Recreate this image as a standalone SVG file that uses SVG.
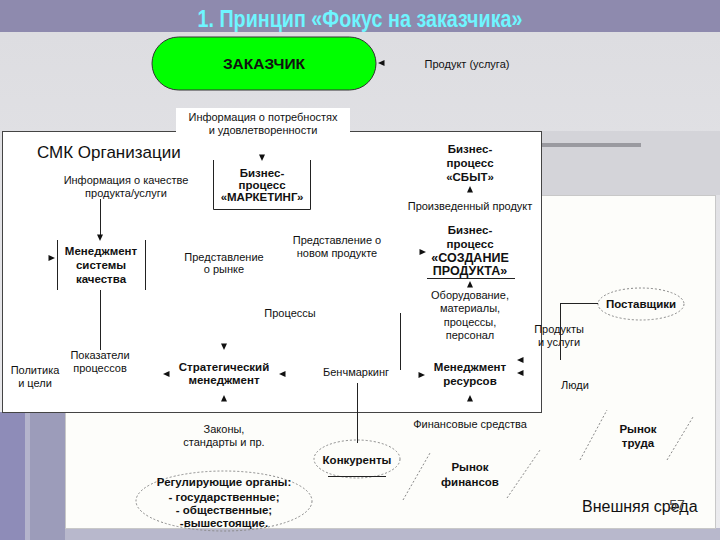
<svg xmlns="http://www.w3.org/2000/svg" width="720" height="540" viewBox="0 0 720 540">
<defs>
<path id="ar" d="M-3.5,-3 L3,0 L-3.5,3 Z" fill="#111"/>
<linearGradient id="bg" x1="0" y1="0" x2="0" y2="1">
<stop offset="0" stop-color="#dcdce0"/><stop offset="1" stop-color="#ececef"/>
</linearGradient>
</defs>
<style>
.t{font-family:"Liberation Sans",Arial,sans-serif;font-size:11px;fill:#111;text-anchor:middle}
.b{font-family:"Liberation Sans",Arial,sans-serif;font-size:11.5px;font-weight:bold;fill:#111;text-anchor:middle}
.ln{stroke:#222;stroke-width:1;fill:none}
.dash{stroke:#888;stroke-width:1;fill:none;stroke-dasharray:2 2}
</style>
<rect x="0" y="0" width="720" height="540" fill="url(#bg)"/>
<rect x="0" y="0" width="720" height="32" fill="#8e8aae"/>
<text x="360" y="27" font-family="Liberation Sans,Arial,sans-serif" font-size="23" font-weight="bold" fill="#6ff5ff" text-anchor="middle" textLength="325" lengthAdjust="spacingAndGlyphs">1.  Принцип «Фокус на заказчика»</text>
<!-- slide decorations -->
<rect x="541" y="131" width="179" height="64" fill="#d4d4d9"/>
<rect x="541" y="143" width="100" height="4" fill="#9a9aa0"/>
<rect x="0" y="412" width="25" height="128" fill="#8e8cb8"/>
<rect x="25" y="412" width="5" height="128" fill="#b4b4cc"/>
<rect x="30" y="412" width="35" height="128" fill="#9c9cba"/>
<rect x="65" y="528" width="655" height="12" fill="#b8b8cc"/>
<!-- outer environment area -->
<rect x="65.5" y="195.5" width="650" height="333" fill="#fdfdfa" stroke="#c8c8c8"/>
<!-- SMK organisation area -->
<rect x="2.5" y="131.5" width="539" height="281" fill="#ffffff" stroke="#444"/>
<g id="customer">
<rect x="152" y="37" width="224" height="53" rx="26.5" fill="#00ff00" stroke="#333"/>
<text class="b" x="264" y="69" style="font-size:15.5px">ЗАКАЗЧИК</text>
</g>
<g id="product-label"><text class="t" x="467" y="68">Продукт (услуга)</text></g>
<g id="info-needs">
<rect x="176" y="108" width="174" height="29" fill="#ffffff"/>
<text class="t" x="263" y="121">Информация о потребностях</text>
<text class="t" x="263" y="134">и удовлетворенности</text>
</g>
<g id="smk-title"><text x="37" y="158" font-family="Liberation Sans,Arial,sans-serif" font-size="17" fill="#111">СМК Организации</text></g>
<g id="info-quality">
<text class="t" x="126" y="184">Информация о качестве</text>
<text class="t" x="126" y="197">продукта/услуги</text>
</g>
<g id="marketing">
<path class="ln" d="M213.5,160 V209.5 H310.5 V160"/>
<text class="b" x="262" y="177">Бизнес-</text>
<text class="b" x="262" y="189">процесс</text>
<text class="b" x="262" y="201">«МАРКЕТИНГ»</text>
</g>
<g id="qms">
<path class="ln" d="M57.5,240 V290 M145.5,240 V290"/>
<text class="b" x="101" y="255">Менеджмент</text>
<text class="b" x="101" y="269">системы</text>
<text class="b" x="101" y="283">качества</text>
</g>
<g id="market-view">
<text class="t" x="224" y="261">Представление</text>
<text class="t" x="224" y="273">о рынке</text>
</g>
<g id="newproduct-view">
<text class="t" x="337" y="244">Представление о</text>
<text class="t" x="337" y="257">новом продукте</text>
</g>
<g id="sales">
<text class="b" x="470" y="153">Бизнес-</text>
<text class="b" x="470" y="167">процесс</text>
<text class="b" x="470" y="181">«СБЫТ»</text>
</g>
<g id="produced"><text class="t" x="470" y="210">Произведенный продукт</text></g>
<g id="creation">
<text class="b" x="470" y="234">Бизнес-</text>
<text class="b" x="470" y="248">процесс</text>
<text class="b" x="470" y="262" style="font-size:12.5px">«СОЗДАНИЕ</text>
<text class="b" x="470" y="275" style="font-size:12.5px">ПРОДУКТА»</text>
<path class="ln" d="M427,278.5 H515"/>
</g>
<g id="equipment">
<text class="t" x="470" y="299">Оборудование,</text>
<text class="t" x="470" y="312">материалы,</text>
<text class="t" x="470" y="326">процессы,</text>
<text class="t" x="470" y="339">персонал</text>
</g>
<g id="processes"><text class="t" x="290" y="317">Процессы</text></g>
<g id="indicators">
<text class="t" x="100" y="359">Показатели</text>
<text class="t" x="100" y="372">процессов</text>
</g>
<g id="policy">
<text class="t" x="35" y="374">Политика</text>
<text class="t" x="35" y="387">и цели</text>
</g>
<g id="strategic">
<text class="b" x="224" y="371">Стратегический</text>
<text class="b" x="224" y="384">менеджмент</text>
</g>
<g id="benchmarking"><text class="t" x="356" y="376">Бенчмаркинг</text></g>
<g id="resources">
<text class="b" x="470" y="371">Менеджмент</text>
<text class="b" x="470" y="385">ресурсов</text>
</g>
<g id="suppliers">
<ellipse class="dash" cx="641" cy="304" rx="43" ry="16"/>
<text class="b" x="641" y="308">Поставщики</text>
</g>
<g id="products-services">
<text class="t" x="559" y="333">Продукты</text>
<text class="t" x="559" y="346">и услуги</text>
</g>
<g id="people"><text class="t" x="575" y="389">Люди</text></g>
<g id="laws">
<text class="t" x="224" y="433">Законы,</text>
<text class="t" x="224" y="446">стандарты и пр.</text>
</g>
<g id="finance-means"><text class="t" x="470" y="428">Финансовые средства</text></g>
<g id="regulators">
<ellipse class="dash" cx="224" cy="501" rx="88" ry="30"/>
<text class="b" x="224" y="486">Регулирующие органы:</text>
<text class="b" x="224" y="501">- государственные;</text>
<text class="b" x="224" y="514">- общественные;</text>
<text class="b" x="224" y="527">-вышестоящие.</text>
</g>
<g id="competitors">
<ellipse class="dash" cx="357" cy="459" rx="43" ry="19"/>
<text class="b" x="357" y="464">Конкуренты</text>
</g>
<g id="finance-market">
<path class="dash" d="M403,500 L430,453 M507,498 L540,450"/>
<text class="b" x="470" y="471">Рынок</text>
<text class="b" x="470" y="486">финансов</text>
</g>
<g id="labour-market">
<path class="dash" d="M580,460 L607,410 M667,460 L693,417"/>
<text class="b" x="638" y="433">Рынок</text>
<text class="b" x="638" y="447">труда</text>
</g>
<g id="environment">
<text x="582" y="512" font-family="Liberation Sans,Arial,sans-serif" font-size="16" fill="#111">Внешняя среда</text>
<text x="677" y="510" font-family="Liberation Sans,Arial,sans-serif" font-size="14" fill="#444" text-anchor="middle">57</text>
</g>
<g id="connectors">
<path class="ln" d="M100.5,199 V235"/>
<path class="ln" d="M100.5,290 V350"/>
<path class="ln" d="M400.5,313 V370"/>
<path class="ln" d="M357.5,383 V443"/>
<path class="ln" d="M328,476.5 H386"/>
<path class="ln" d="M560.5,303.5 H598 M560.5,303 V360"/>
<use href="#ar" transform="translate(381,63) rotate(180)"/>
<use href="#ar" transform="translate(262,158) rotate(90)"/>
<use href="#ar" transform="translate(100,238) rotate(90)"/>
<use href="#ar" transform="translate(52,258)"/>
<use href="#ar" transform="translate(423,252)"/>
<use href="#ar" transform="translate(470,189) rotate(-90)"/>
<use href="#ar" transform="translate(470,284) rotate(-90)"/>
<use href="#ar" transform="translate(224,347) rotate(90)"/>
<use href="#ar" transform="translate(166,374) rotate(180)"/>
<use href="#ar" transform="translate(282,374) rotate(180)"/>
<use href="#ar" transform="translate(224,398) rotate(-90)"/>
<use href="#ar" transform="translate(422,375)"/>
<use href="#ar" transform="translate(520,360) rotate(180)"/>
<use href="#ar" transform="translate(520,373) rotate(180)"/>
<use href="#ar" transform="translate(470,398) rotate(-90)"/>
</g>
</svg>
